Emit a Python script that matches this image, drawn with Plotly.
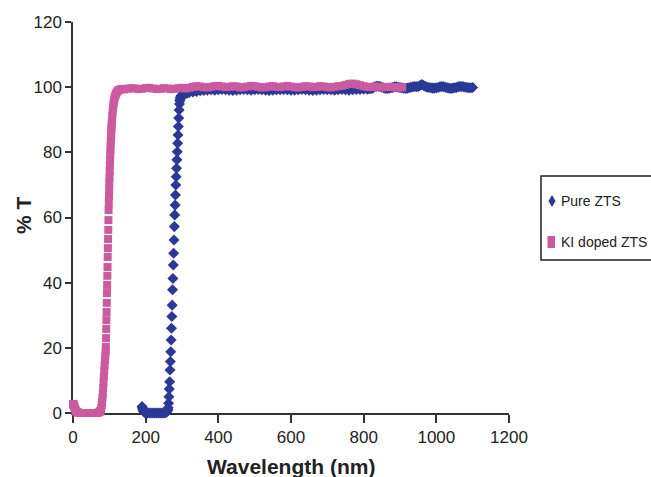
import plotly.graph_objects as go

# ---- Pure ZTS transmission spectrum (wavelength in nm, %T) ----
pure_nm = [
    190, 191, 192, 193, 194, 195, 197, 200, 205, 210, 215, 220, 225, 230, 235,
    240, 245, 250, 255, 258, 260, 261,
    262, 263, 264, 265, 266, 267, 268, 269, 270, 271, 272, 273, 274, 275, 276,
    277, 278, 279, 280, 281, 282, 283, 284, 285, 286, 287, 288, 289, 290, 291,
    292, 293, 294, 295, 296, 297, 298, 300, 303, 306, 310, 315, 320,
    330, 340, 350, 360, 370, 380, 390, 400, 410, 420, 430, 440, 450, 460, 470,
    480, 490, 500, 510, 520, 530, 540, 550, 560, 570, 580, 590, 600, 610, 620,
    630, 640, 650, 660, 670, 680, 690, 700, 710, 720, 730, 740, 750, 760, 770,
    780, 790, 800,
    810, 815, 820, 825, 830, 835, 840, 845, 850, 855, 860, 865, 870, 875, 880,
    885, 890, 895, 900, 905, 910, 915, 920, 925, 930, 935, 940, 945, 950, 955,
    960, 965, 970, 975, 980, 985, 990, 995, 1000, 1005, 1010, 1015, 1020, 1025,
    1030, 1035, 1040, 1045, 1050, 1055, 1060, 1065, 1070, 1075, 1080, 1085,
    1090, 1095, 1100,
]
pure_T = [
    2.0, 1.6, 1.2, 0.9, 0.6, 0.4, 0.2, 0.1, 0.0, 0.0, 0.0, 0.0, 0.0, 0.0, 0.0,
    0.0, 0.0, 0.0, 0.1, 0.3, 0.7, 1.1,
    1.6, 3.0, 5.0, 7.4, 9.6, 13.2, 15.8, 18.8, 22.4, 26.0, 29.6, 33.1, 37.8, 41.3, 45.4,
    49.0, 53.1, 57.2, 60.8, 63.8, 66.9, 70.0, 72.5, 75.1, 77.7, 80.2, 82.8, 85.3, 87.9, 90.5,
    93.0, 94.8, 95.8, 96.4, 96.9, 97.2, 97.4, 97.6, 97.8, 97.9, 98.0, 98.2, 98.4,
    98.5, 98.7, 98.9, 99.0, 99.1, 99.2, 99.1, 99.2, 99.3, 99.2, 99.1, 99.0, 99.1, 99.2, 99.3,
    99.2, 99.1, 99.2, 99.3, 99.2, 99.1, 99.0, 99.1, 99.2, 99.2, 99.3, 99.2, 99.1, 99.1, 99.2,
    99.3, 99.2, 99.1, 99.0, 99.1, 99.2, 99.3, 99.2, 99.2, 99.1, 99.2, 99.3, 99.2, 99.1, 99.2,
    99.3, 99.3, 99.4,
    99.4, 99.5, 99.6, 99.7, 100.1, 100.3, 100.3, 100.2, 100.0, 99.8, 99.6, 99.6, 99.7, 99.8, 99.9,
    100.1, 100.1, 100.0, 99.9, 99.8, 99.7, 99.6, 99.7, 99.8, 100.0, 100.1, 100.2, 100.1, 100.2, 100.5,
    100.8, 100.5, 100.2, 100.0, 99.9, 99.8, 99.7, 99.7, 99.8, 99.9, 100.1, 100.2, 100.1, 100.0,
    99.8, 99.7, 99.6, 99.7, 99.8, 99.9, 100.1, 100.2, 100.2, 100.1, 100.0, 99.9,
    99.8, 99.8, 99.9,
]

# ---- KI doped ZTS transmission spectrum ----
doped_nm = [
    0, 1, 2, 3, 4, 5, 6, 7, 8, 10, 12, 15, 20, 25, 30, 35, 40, 45, 50, 55, 60,
    65, 70, 73, 75, 77, 78, 79, 80, 81, 82, 83, 84, 85, 86, 87, 88, 89, 90,
    90.5, 91.0, 91.5, 92.0, 92.5, 93.0, 93.5, 94.0, 94.5, 95.0, 95.5, 96.0,
    96.5, 97.0, 97.5, 98.0,
    98.5, 99.0, 99.5, 100.0, 100.5, 101.0, 101.5, 102.0, 102.5, 103.0, 103.5,
    104.0, 104.5, 105.0, 105.5, 106.0, 106.5, 107.0, 108, 109, 110, 111, 112,
    113, 114, 116, 118, 120, 123, 126, 130, 135,
    140, 150, 160, 170, 180, 190, 200, 210, 220, 230, 240, 250, 260, 270, 280,
    290, 300, 310, 320,
    330, 340, 350, 360, 370, 380, 390, 400, 410, 420, 430, 440, 450, 460, 470,
    480, 490, 500, 510, 520, 530, 540, 550, 560, 570, 580, 590, 600, 610, 620,
    630, 640, 650, 660, 670, 680, 690, 700, 710, 720, 730, 740, 750, 760, 770,
    780, 790, 800, 810, 820, 830, 840, 850, 860, 870, 880, 890, 900, 906,
]
doped_T = [
    2.6, 2.8, 2.6, 2.3, 1.9, 1.5, 1.1, 0.8, 0.6, 0.4, 0.2, 0.1, 0.0, 0.0, 0.0, 0.0, 0.0, 0.0, 0.0, 0.0, 0.0,
    0.0, 0.1, 0.3, 0.6, 1.0, 1.6, 2.4, 3.4, 4.6, 6.0, 7.6, 9.4, 11.2, 13.0, 14.6, 16.2, 17.6, 19.0,
    20.3, 23.0, 25.8, 28.5, 31.0, 33.8, 36.8, 39.3, 42.1, 44.8, 47.9, 50.6,
    53.4, 56.2, 59.2, 62.3,
    64.5, 66.6, 68.6, 70.5, 72.4, 74.2, 76.0, 77.6, 79.2, 80.6, 82.0,
    83.3, 84.5, 85.6, 86.7, 87.7, 88.6, 89.5, 91.0, 92.3, 93.5, 94.4, 95.2,
    95.9, 96.5, 97.3, 97.9, 98.4, 98.8, 99.1, 99.3, 99.5,
    99.3, 99.5, 99.7, 99.6, 99.4, 99.5, 99.7, 99.8, 99.6, 99.4, 99.5, 99.7, 99.6, 99.4, 99.5,
    99.7, 99.8, 99.6, 99.8,
    100.1, 100.3, 100.2, 100.0, 99.9, 100.1, 100.3, 100.4, 100.2, 100.0, 100.1, 100.3, 100.2, 99.9, 100.0,
    100.2, 100.4, 100.3, 100.1, 99.9, 100.0, 100.2, 100.3, 100.1, 100.0, 100.2, 100.4, 100.2, 100.0, 99.9,
    100.1, 100.3, 100.2, 100.0, 100.1, 100.3, 100.2, 100.0, 99.9, 100.1, 100.3, 100.4, 100.7, 101.0, 101.1,
    100.9, 100.6, 100.3, 100.1, 100.0, 100.2, 100.1, 99.9, 100.0, 100.1, 100.0, 99.9, 100.0, 99.9,
]

x_ticks = [0, 200, 400, 600, 800, 1000, 1200]
y_ticks = [0, 20, 40, 60, 80, 100, 120]

BLUE = "#2B3896"
PINK = "#CC5AA0"
AXIS = "#333333"
TEXT = "#222222"
FONT = "Liberation Sans, Arial, sans-serif"

W, H = 651, 477
ML, MR, MT, MB = 73, 142, 22, 64
PW, PH = W - ML - MR, H - MT - MB


def px_x(p):
    """Pixel column -> paper x."""
    return (p - ML) / PW


def px_y(p):
    """Pixel row -> paper y."""
    return (H - MB - p) / PH


fig = go.Figure()
fig.add_trace(go.Scatter(
    x=pure_nm, y=pure_T, mode="markers", name="Pure ZTS",
    marker=dict(symbol="diamond", size=8.5, color=BLUE, line=dict(width=0)),
    cliponaxis=False, showlegend=False,
))
fig.add_trace(go.Scatter(
    x=doped_nm, y=doped_T, mode="markers", name="KI doped ZTS",
    marker=dict(symbol="square", size=8, color=PINK, line=dict(width=0)),
    cliponaxis=False, showlegend=False,
))

axis_common = dict(
    showline=True, linecolor=AXIS, linewidth=1.5, mirror=False,
    ticks="outside", tickcolor=AXIS, tickwidth=1.5,
    showgrid=False, zeroline=False, layer="below traces",
    tickfont=dict(family=FONT, size=17, color=TEXT),
)

fig.update_xaxes(range=[0, 1200], tickvals=x_ticks, ticklen=8, **axis_common)
fig.update_yaxes(range=[0, 120], tickvals=y_ticks, ticklen=6, **axis_common)

# Legend box drawn by hand so its keys sit close to the text
shapes = [
    dict(type="rect", xref="paper", yref="paper",
         x0=px_x(541), x1=px_x(720), y0=px_y(260), y1=px_y(176),
         line=dict(color=TEXT, width=1.5), fillcolor="rgba(0,0,0,0)"),
    dict(type="path", xref="paper", yref="paper",
         path=(f"M {px_x(552)} {px_y(195)} L {px_x(555.5)} {px_y(201)} "
               f"L {px_x(552)} {px_y(207)} L {px_x(548.5)} {px_y(201)} Z"),
         line=dict(width=0), fillcolor=BLUE),
    dict(type="rect", xref="paper", yref="paper",
         x0=px_x(547.5), x1=px_x(555), y0=px_y(248), y1=px_y(236),
         line=dict(width=0), fillcolor=PINK),
]
annotations = [
    dict(xref="paper", yref="paper", x=px_x(559), y=px_y(201), text="Pure ZTS",
         xanchor="left", yanchor="middle", showarrow=False,
         font=dict(family=FONT, size=14, color=TEXT)),
    dict(xref="paper", yref="paper", x=px_x(559), y=px_y(242), text="KI doped ZTS",
         xanchor="left", yanchor="middle", showarrow=False,
         font=dict(family=FONT, size=14, color=TEXT)),
    # axis titles
    dict(xref="paper", yref="paper", x=px_x(291), y=px_y(466), text="<b>Wavelength (nm)</b>",
         xanchor="center", yanchor="middle", showarrow=False,
         font=dict(family=FONT, size=21, color=TEXT)),
    dict(xref="paper", yref="paper", x=px_x(24), y=px_y(215), text="<b>% T</b>",
         textangle=-90, xanchor="center", yanchor="middle", showarrow=False,
         font=dict(family=FONT, size=21, color=TEXT)),
]

fig.update_layout(
    width=W, height=H,
    margin=dict(l=ML, r=MR, t=MT, b=MB, pad=0),
    paper_bgcolor="white", plot_bgcolor="white",
    font=dict(family=FONT, color=TEXT),
    shapes=shapes, annotations=annotations,
    showlegend=False,
)

fig.write_html("out.html")
